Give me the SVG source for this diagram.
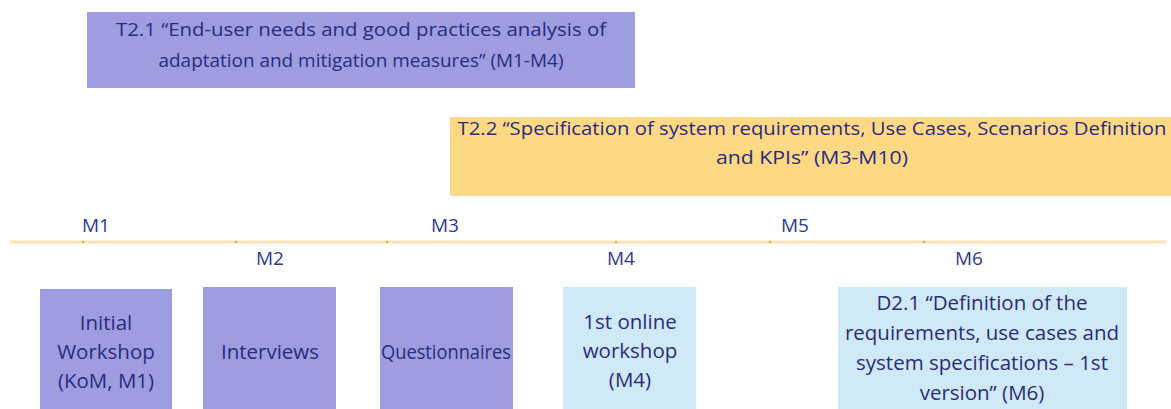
<svg xmlns="http://www.w3.org/2000/svg" width="1171" height="409" viewBox="0 0 1171 409">
  <style>
    .lbl { font-family: "Open Sans", "Liberation Sans", sans-serif; font-size: 19px; fill: #2b2b7c; text-anchor: middle; }
    .box { font-size: 20.5px; }
    .mon { font-family: "Open Sans", "Liberation Sans", sans-serif; font-size: 19px; fill: #2d3a8e; text-anchor: middle; }
    .task { fill: #9d9de0; }
    .deliv { fill: #d0e9f6; }
    .spec { fill: #fdd986; }
    .tick { fill: #e3a545; }
  </style>
  <rect width="1171" height="409" fill="#ffffff"/>

  <!-- task bars -->
  <g id="t21">
    <rect class="task" x="87" y="12" width="548" height="76"/>
    <text class="lbl" x="361" y="36" textLength="490" lengthAdjust="spacingAndGlyphs">T2.1 “End-user needs and good practices analysis of</text>
    <text class="lbl" x="361" y="67" textLength="405" lengthAdjust="spacingAndGlyphs">adaptation and mitigation measures” (M1-M4)</text>
  </g>
  <g id="t22">
    <rect class="spec" x="450" y="117" width="721" height="79"/>
    <text class="lbl" x="812" y="135" textLength="709" lengthAdjust="spacingAndGlyphs">T2.2 “Specification of system requirements, Use Cases, Scenarios Definition</text>
    <text class="lbl" x="812" y="164" textLength="192" lengthAdjust="spacingAndGlyphs">and KPIs” (M3-M10)</text>
  </g>

  <!-- timeline axis -->
  <g id="connectors">
    <line x1="10" y1="242" x2="1166" y2="242" stroke="#fde2b3" stroke-width="3"/>
    <circle class="tick" cx="83" cy="242" r="1.2"/>
    <circle class="tick" cx="236" cy="242" r="1.2"/>
    <circle class="tick" cx="387" cy="242" r="1.2"/>
    <circle class="tick" cx="616" cy="242" r="1.2"/>
    <circle class="tick" cx="770" cy="242" r="1.2"/>
    <circle class="tick" cx="924" cy="242" r="1.2"/>
  </g>

  <!-- month labels -->
  <g id="months">
    <text class="mon" x="96" y="232">M1</text>
    <text class="mon" x="270" y="265">M2</text>
    <text class="mon" x="445" y="232">M3</text>
    <text class="mon" x="621" y="265">M4</text>
    <text class="mon" x="795" y="232">M5</text>
    <text class="mon" x="969" y="265">M6</text>
  </g>

  <!-- activities -->
  <g id="initial-workshop">
    <rect class="task" x="40" y="289" width="132" height="120"/>
    <text class="lbl box" x="106" y="330">Initial</text>
    <text class="lbl box" x="106" y="359">Workshop</text>
    <text class="lbl box" x="106" y="388">(KoM, M1)</text>
  </g>
  <g id="interviews">
    <rect class="task" x="203" y="287" width="133" height="122"/>
    <text class="lbl box" x="270" y="359">Interviews</text>
  </g>
  <g id="questionnaires">
    <rect class="task" x="380" y="287" width="133" height="122"/>
    <text class="lbl box" x="446" y="359" textLength="130" lengthAdjust="spacingAndGlyphs">Questionnaires</text>
  </g>
  <g id="online-workshop">
    <rect class="deliv" x="563" y="287" width="133" height="122"/>
    <text class="lbl box" x="630" y="329">1st online</text>
    <text class="lbl box" x="630" y="358">workshop</text>
    <text class="lbl box" x="630" y="387">(M4)</text>
  </g>
  <g id="d21">
    <rect class="deliv" x="838" y="287" width="289" height="122"/>
    <text class="lbl box" x="982" y="310">D2.1 “Definition of the</text>
    <text class="lbl box" x="982" y="340">requirements, use cases and</text>
    <text class="lbl box" x="982" y="370">system specifications – 1st</text>
    <text class="lbl box" x="982" y="400">version” (M6)</text>
  </g>
</svg>
